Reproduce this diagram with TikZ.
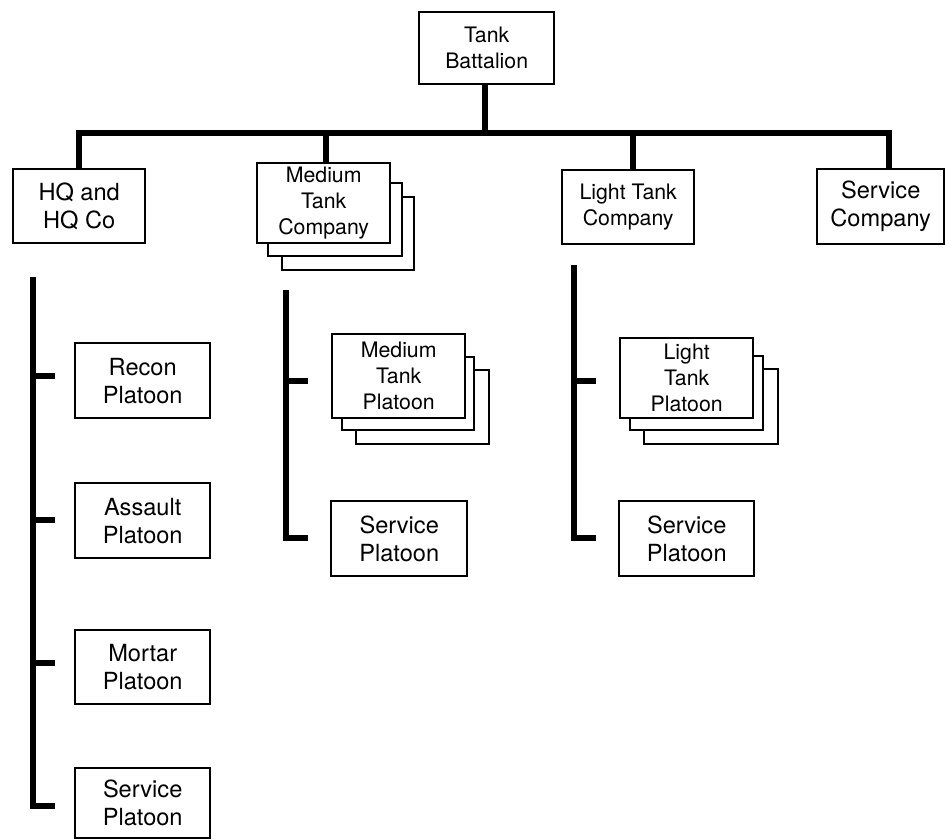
\documentclass[tikz,border=0pt]{standalone}
\usepackage{fontspec}
\setmainfont{TeX Gyre Heros}
\begin{document}
\begin{tikzpicture}[x=1pt,y=-1pt,
  box/.style={draw, line width=2.4pt, fill=white, align=center, inner sep=0pt, anchor=north west},
  bigtxt/.style={font=\fontsize{23.6}{28}\selectfont},
  smalltxt/.style={font=\fontsize{21.3}{26}\selectfont},
  link/.style={line width=5.5pt},
]
\useasboundingbox (0,0) rectangle (945,839);

% top level
\node[box, smalltxt, minimum width=135pt, minimum height=72pt] (tb) at (418,11) {Tank\\Battalion};
\node[box, bigtxt, minimum width=132pt, minimum height=74pt] (hq) at (12,168) {HQ and\\HQ Co};
\node[box, minimum width=132pt, minimum height=73pt] (mtc3) at (281,196) {};
\node[box, minimum width=134pt, minimum height=73pt] (mtc2) at (267,182) {};
\node[box, smalltxt, minimum width=133pt, minimum height=80pt] (mtc) at (256,162) {Medium\\Tank\\Company};
\node[box, smalltxt, minimum width=132pt, minimum height=74pt] (ltc) at (561,169) {Light Tank\\Company};
\node[box, bigtxt, minimum width=127pt, minimum height=75pt] (sc) at (816,168) {Service\\Company};

% HQ column
\node[box, bigtxt, minimum width=135pt, minimum height=75pt] (recon) at (74,342) {Recon\\Platoon};
\node[box, bigtxt, minimum width=135pt, minimum height=75pt] (assault) at (74,482) {Assault\\Platoon};
\node[box, bigtxt, minimum width=135pt, minimum height=74pt] (mortar) at (74,629) {Mortar\\Platoon};
\node[box, bigtxt, minimum width=135pt, minimum height=70pt] (hqsvc) at (74,767) {Service\\Platoon};

% Medium column
\node[box, minimum width=133pt, minimum height=74pt] (mtp3) at (355,369) {};
\node[box, minimum width=132pt, minimum height=73pt] (mtp2) at (341,356) {};
\node[box, smalltxt, minimum width=133pt, minimum height=84pt] (mtp) at (331,333) {Medium\\Tank\\Platoon};
\node[box, bigtxt, minimum width=136pt, minimum height=75pt] (msp) at (330,500) {Service\\Platoon};

% Light column
\node[box, minimum width=134pt, minimum height=75pt] (ltp3) at (643,368) {};
\node[box, minimum width=133pt, minimum height=74pt] (ltp2) at (629,355) {};
\node[box, smalltxt, minimum width=133pt, minimum height=80pt] (ltp) at (619,337) {Light\\Tank\\Platoon};
\node[box, bigtxt, minimum width=135pt, minimum height=75pt] (lsp) at (618,500) {Service\\Platoon};

% connector coordinates
\coordinate (barL) at (78,133);
\coordinate (barR) at (889,133);
\coordinate (tbBar) at (485,133);
\coordinate (mtcTop) at (326,162);
\coordinate (ltcTop) at (633,169);
\coordinate (scTop) at (889,168);

\draw[link] (tb.south -| tbBar) -- (tbBar);
\draw[link] (hq.north) -- (hq.north |- barL) -- (barR) -- (scTop);
\draw[link] (mtcTop) -- (mtcTop |- barL);
\draw[link] (ltcTop) -- (ltcTop |- barL);

% HQ column bar
\coordinate (hqvTop) at (33,277);
\coordinate (hqvBot) at (33,806);
\coordinate (hqt1) at (55,376);
\coordinate (hqt2) at (55,520);
\coordinate (hqt3) at (55,663);
\coordinate (hqt4) at (55,806);
\draw[link] (hqvTop) -- (hqvBot) -- (hqt4);
\draw[link] (hqt1 -| hqvTop) -- (hqt1);
\draw[link] (hqt2 -| hqvTop) -- (hqt2);
\draw[link] (hqt3 -| hqvTop) -- (hqt3);

% Medium column bar
\coordinate (mvTop) at (286,290);
\coordinate (mvBot) at (286,538);
\coordinate (mt1) at (308,381);
\coordinate (mt2) at (308,538);
\draw[link] (mvTop) -- (mvBot) -- (mt2);
\draw[link] (mt1 -| mvTop) -- (mt1);

% Light column bar
\coordinate (lvTop) at (574,265);
\coordinate (lvBot) at (574,538);
\coordinate (lt1) at (596,381);
\coordinate (lt2) at (596,538);
\draw[link] (lvTop) -- (lvBot) -- (lt2);
\draw[link] (lt1 -| lvTop) -- (lt1);
\end{tikzpicture}
\end{document}
